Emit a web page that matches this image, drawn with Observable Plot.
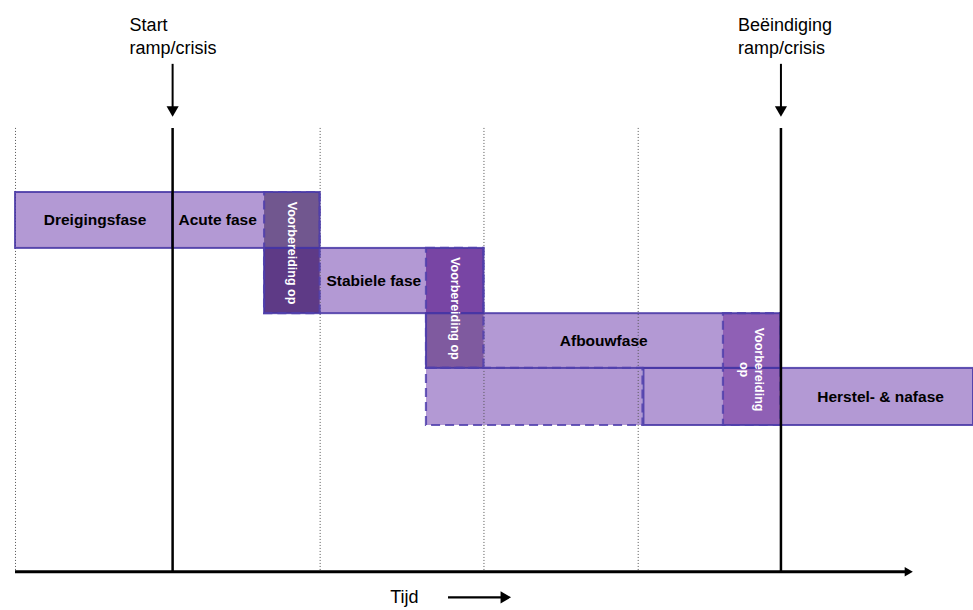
<!DOCTYPE html>
<html>
<head>
<meta charset="utf-8">
<script src="https://cdn.jsdelivr.net/npm/d3@7"></script>
<script src="https://cdn.jsdelivr.net/npm/@observablehq/plot@0.6"></script>
<style>
  html, body { margin: 0; padding: 0; background: white; }
  svg { display: block; overflow: visible; }
</style>
</head>
<body>
<div id="chart"></div>
<script>
// ---- Data (time runs 0..100, rows 0..4 from top) ----
const phaseNames  = ["Dreigingsfase", "Acute fase", "Stabiele fase", "Afbouwfase", "Herstel- & nafase"];
const phaseStart  = [0, 16.4, 26.0, 42.9, 65.6];
const phaseEnd    = [16.4, 31.8, 48.9, 79.9, 100];
const phaseTop    = [0, 0, 0.96, 2.08, 3.02];
const phaseBottom = [0.96, 0.96, 2.08, 3.02, 4];
const phaseLabelAt = [8.3, 21.1, 37.4, 61.4, 90.3];

// dashed continuation of the Afbouwfase under the Herstel- & nafase row
const tailStart = [42.9];
const tailEnd = [65.5];
const tailTop = [3.02];
const tailBottom = [4];

// "Voorbereiding op" blocks
const prepText   = ["Voorbereiding op", "Voorbereiding op", "Voorbereiding\nop"];
const prepStart  = [26.0, 42.9, 73.9];
const prepEnd    = [31.8, 48.9, 79.9];
const prepTop    = [0, 0.96, 2.08];
const prepSplit  = [0.96, 2.08, 3.02];
const prepBottom = [2.08, 3.02, 4];

// milestones
const milestoneLabels = ["Start\nramp/crisis", "Beëindiging\nramp/crisis"];
const milestoneAt = [16.4, 79.9];

// dotted time gridlines
const gridAt = [0, 31.8, 48.9, 65.0];

// axis
const axisLabel = "Tijd";
const axisLabelAt = 40.6;
const axisEnd = 93.1;
const axisLabelArrow = [45.2, 51.0];

// vertical levels (row units) of the annotation elements
const lineTop = -1.10, axisLevel = 6.51, labelLevel = -3.06;
const arrowTop = -2.20, arrowTip = -1.32, tijdLevel = 6.95;

// ---- Styles ----
const baseFill = "#b399d4";
const boxStroke = "#4535a5";
const dashStroke = "#5040ad";
const prepUpperFill = ["#71578f", "#7845a4", "#8f60b5"];
const prepLowerFill = ["#5e3a86", "#7f5a9f", "#8f60b5"];

// ---- Build tables ----
const phases = phaseNames.map((name, i) => ({
  name, x1: phaseStart[i], x2: phaseEnd[i], y1: phaseTop[i], y2: phaseBottom[i], lx: phaseLabelAt[i]
}));
const tail = tailStart.map((s, i) => ({x1: s, x2: tailEnd[i], y1: tailTop[i], y2: tailBottom[i]}));
const preps = prepText.map((t, i) => ({
  text: t, x1: prepStart[i], x2: prepEnd[i], y1: prepTop[i], ym: prepSplit[i], y2: prepBottom[i], i
}));
const milestones = milestoneLabels.map((label, i) => ({label, x: milestoneAt[i]}));

const font = "'Liberation Sans', Arial, Helvetica, sans-serif";

const chart = Plot.plot({
  width: 973,
  height: 610,
  marginLeft: 15,
  marginRight: 0,
  marginTop: 192,
  marginBottom: 185,
  x: {domain: [0, 100], axis: null},
  y: {domain: [0, 4], reverse: true, axis: null},
  color: {type: "identity"},
  style: {fontFamily: font, background: "white", overflow: "visible"},
  marks: [
    // fills
    Plot.rect(phases, {x1: "x1", x2: "x2", y1: "y1", y2: "y2", fill: baseFill}),
    Plot.rect(tail, {x1: "x1", x2: "x2", y1: "y1", y2: "y2", fill: baseFill}),
    // dotted gridlines
    Plot.ruleX(gridAt, {x: d => d, y1: lineTop, y2: axisLevel, stroke: "#555", strokeWidth: 1, strokeDasharray: "1,2"}),
    // preparation blocks (two tones)
    Plot.rect(preps, {x1: "x1", x2: "x2", y1: "y1", y2: "ym", fill: d => prepUpperFill[d.i]}),
    Plot.rect(preps, {x1: "x1", x2: "x2", y1: "ym", y2: "y2", fill: d => prepLowerFill[d.i]}),
    // outlines
    Plot.rect(phases, {x1: "x1", x2: "x2", y1: "y1", y2: "y2", fill: "none", stroke: boxStroke, strokeOpacity: 0.85, strokeWidth: 2}),
    Plot.rect(tail, {x1: "x1", x2: "x2", y1: "y1", y2: "y2", fill: "none", stroke: dashStroke, strokeOpacity: 0.85, strokeWidth: 2.2, strokeDasharray: "9,5"}),
    Plot.rect(preps, {x1: "x1", x2: "x2", y1: "y1", y2: "y2", fill: "none", stroke: dashStroke, strokeOpacity: 0.85, strokeWidth: 2.2, strokeDasharray: "9,5"}),
    // milestone lines
    Plot.ruleX(milestones, {x: "x", y1: lineTop, y2: axisLevel, stroke: "black", strokeWidth: 2.5}),
    // milestone arrows
    Plot.ruleX(milestones, {x: "x", y1: arrowTop, y2: arrowTip - 0.1, stroke: "black", strokeWidth: 2}),
    Plot.dot(milestones, {x: "x", y: arrowTip - 0.1, symbol: "triangle", rotate: 180, r: 4.5, fill: "black", stroke: "none"}),
    // milestone labels
    Plot.text(milestones, {x: "x", y: labelLevel, text: "label", textAnchor: "start", lineAnchor: "top", dx: -43, fontSize: 18, lineHeight: 1.3, fill: "black"}),
    // time axis
    Plot.ruleY([axisLevel], {x1: 0, x2: axisEnd, stroke: "black", strokeWidth: 3}),
    Plot.dot([axisEnd], {x: d => d, y: axisLevel, symbol: "triangle", rotate: 90, r: 3.5, fill: "black", stroke: "none"}),
    Plot.text([axisLabel], {x: axisLabelAt, y: tijdLevel, text: d => d, fontSize: 18, fill: "black"}),
    Plot.ruleY([tijdLevel], {x1: axisLabelArrow[0], x2: axisLabelArrow[1], stroke: "black", strokeWidth: 2.2}),
    Plot.dot([axisLabelArrow[1]], {x: d => d, y: tijdLevel, symbol: "triangle", rotate: 90, r: 4.5, fill: "black", stroke: "none"}),
    // phase labels
    Plot.text(phases, {x: "lx", y: d => (d.y1 + d.y2) / 2, text: "name", fontSize: 15.5, fontWeight: "bold", fill: "black"}),
    // preparation labels
    Plot.text(preps, {x: d => (d.x1 + d.x2) / 2, y: d => (d.y1 + d.y2) / 2, text: "text", rotate: 90, fill: "white", fontSize: 12.5, fontWeight: "bold", lineHeight: 1.15})
  ]
});
document.getElementById("chart").appendChild(chart);
</script>
</body>
</html>
